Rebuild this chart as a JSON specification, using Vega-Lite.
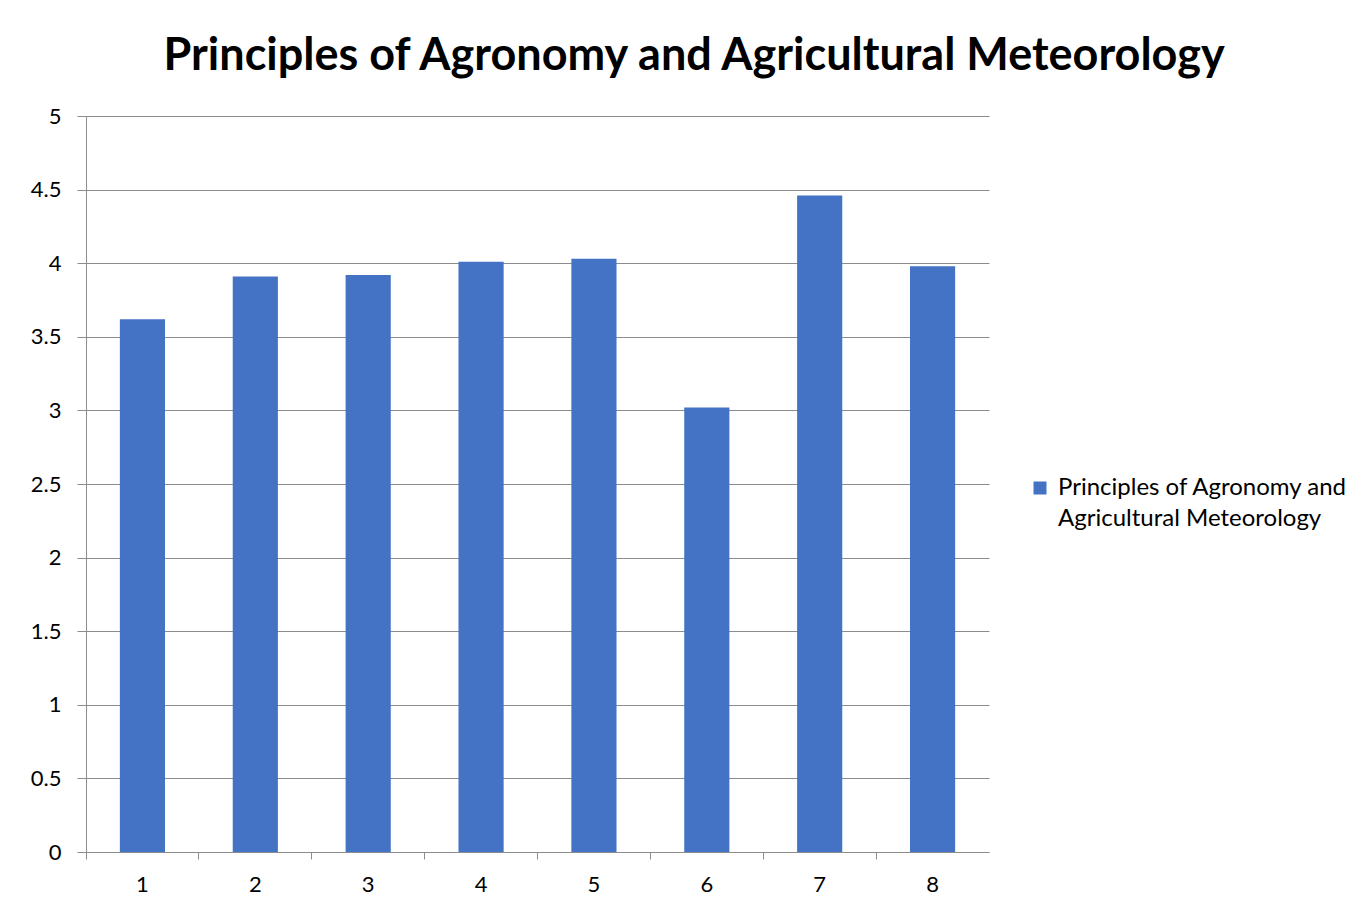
{
  "$schema": "https://vega.github.io/schema/vega-lite/v6.json",
  "autosize": "none",
  "width": 903,
  "height": 736,
  "padding": {"left": 86, "top": 116, "right": 376, "bottom": 63},
  "background": "white",
  "title": {
    "text": "Principles of Agronomy and Agricultural Meteorology",
    "font": "Lato",
    "fontSize": 45,
    "fontWeight": "bold",
    "color": "#000000",
    "anchor": "middle",
    "frame": "bounds",
    "dx": 5,
    "offset": 26
  },
  "data": {
    "values": [
      {"item": "1", "value": 3.62, "series": "Principles of Agronomy and Agricultural Meteorology"},
      {"item": "2", "value": 3.91, "series": "Principles of Agronomy and Agricultural Meteorology"},
      {"item": "3", "value": 3.92, "series": "Principles of Agronomy and Agricultural Meteorology"},
      {"item": "4", "value": 4.01, "series": "Principles of Agronomy and Agricultural Meteorology"},
      {"item": "5", "value": 4.03, "series": "Principles of Agronomy and Agricultural Meteorology"},
      {"item": "6", "value": 3.02, "series": "Principles of Agronomy and Agricultural Meteorology"},
      {"item": "7", "value": 4.46, "series": "Principles of Agronomy and Agricultural Meteorology"},
      {"item": "8", "value": 3.98, "series": "Principles of Agronomy and Agricultural Meteorology"}
    ]
  },
  "mark": {"type": "bar", "width": {"band": 0.4}},
  "encoding": {
    "x": {
      "field": "item",
      "type": "ordinal",
      "scale": {"paddingInner": 0, "paddingOuter": 0},
      "axis": {
        "title": null,
        "labelAngle": 0,
        "bandPosition": 0,
        "labelFont": "Lato",
        "labelFontSize": 22,
        "labelColor": "#000000",
        "labelPadding": 15,
        "tickSize": 7,
        "tickColor": "#8c8c8c",
        "domainColor": "#8c8c8c",
        "grid": false
      }
    },
    "y": {
      "field": "value",
      "type": "quantitative",
      "scale": {"domain": [0, 5], "nice": false},
      "axis": {
        "title": null,
        "values": [0, 0.5, 1, 1.5, 2, 2.5, 3, 3.5, 4, 4.5, 5],
        "format": "~g",
        "labelFont": "Lato",
        "labelFontSize": 22,
        "labelColor": "#000000",
        "labelPadding": 16,
        "tickSize": 9,
        "tickColor": "#8c8c8c",
        "domainColor": "#8c8c8c",
        "gridColor": "#8c8c8c",
        "gridOpacity": 1,
        "grid": true
      }
    },
    "color": {
      "field": "series",
      "type": "nominal",
      "scale": {"range": ["#4472C4"]},
      "legend": {
        "title": null,
        "orient": "none",
        "legendX": 942,
        "legendY": 360,
        "symbolType": "square",
        "symbolSize": 169,
        "symbolStrokeWidth": 0,
        "labelFont": "Lato",
        "labelFontSize": 24,
        "labelColor": "#000000",
        "labelLimit": 400,
        "labelOffset": 6,
        "labelExpr": "['Principles of Agronomy and', 'Agricultural Meteorology']",
        "encode": {"labels": {"update": {"lineHeight": {"value": 31}}}}
      }
    }
  },
  "config": {
    "view": {"stroke": null}
  }
}
